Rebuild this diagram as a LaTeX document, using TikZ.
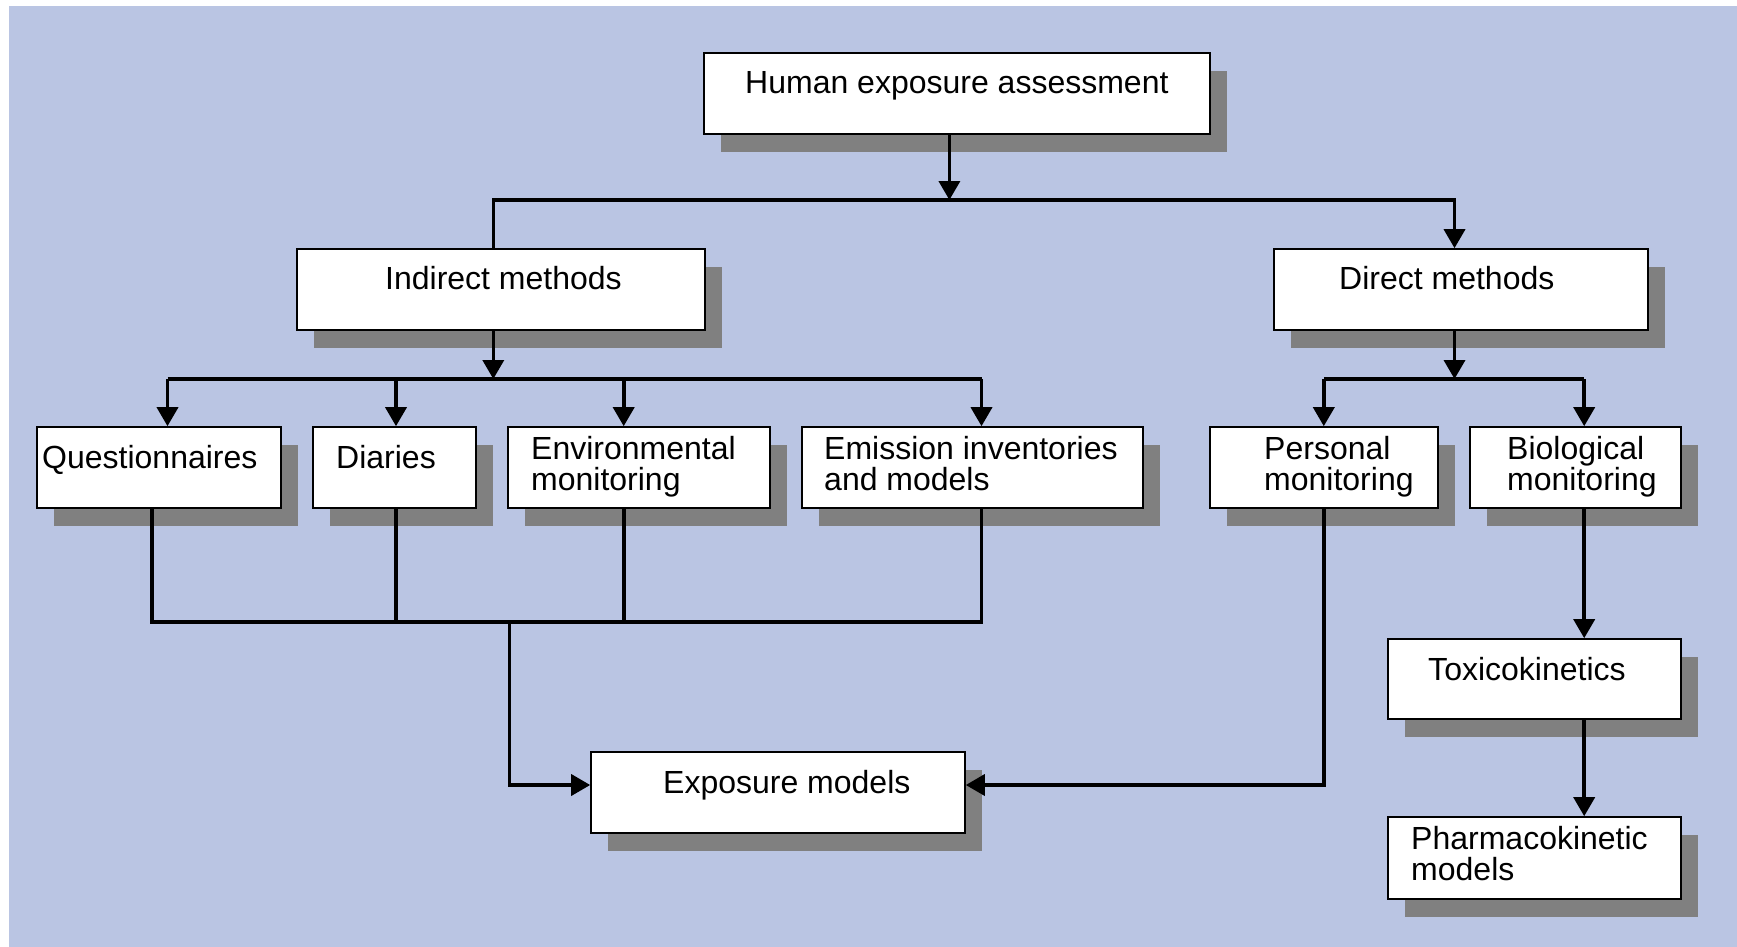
\documentclass[tikz,border=0pt]{standalone}
\usepackage{fontspec}
\setmainfont{Liberation Sans}
\usetikzlibrary{arrows.meta,shadows}
\definecolor{bgblue}{RGB}{186,197,227}
\definecolor{shgray}{RGB}{128,128,128}
\newcommand{\mkbox}[5]{\node[bx,minimum width={#4-#2},minimum height={#5-#3}] (#1) at ({(#2+#4)/2},{(#3+#5)/2}) {};}
\begin{document}
\begin{tikzpicture}[x=1pt,y=-1pt,
  bx/.style={draw=black,line width=1.6pt,fill=white,inner sep=0pt,
    drop shadow={shadow xshift=17pt,shadow yshift=-18pt,fill=shgray,opacity=1}},
  lbl/.style={anchor=base west,inner sep=0pt,text=black,font=\fontsize{32}{32}\selectfont},
  conn/.style={line width=3.6pt},
  arr/.style={conn,-{Triangle[width=21pt,length=19pt]}}]
\useasboundingbox (0,0) rectangle (1737,947);
\fill[white] (0,0) rectangle (1737,947);
\fill[bgblue] (9,6) rectangle (1737,947);

% boxes
\mkbox{hea}{704}{53}{1210}{134}
\mkbox{ind}{297}{249}{705}{330}
\mkbox{dir}{1274}{249}{1648}{330}
\mkbox{que}{37}{427}{281}{508}
\mkbox{dia}{313}{427}{476}{508}
\mkbox{env}{508}{427}{770}{508}
\mkbox{emi}{802}{427}{1143}{508}
\mkbox{per}{1210}{427}{1438}{508}
\mkbox{bio}{1470}{427}{1681}{508}
\mkbox{tox}{1388}{639}{1681}{719}
\mkbox{pha}{1388}{817}{1681}{899}
\mkbox{exm}{591}{752}{965}{833}

% labels
\node[lbl] (t-hea) at (745,94) {Human exposure assessment};
\node[lbl] (t-ind) at (385,289) {Indirect methods};
\node[lbl] (t-dir) at (1339,289) {Direct methods};
\node[lbl] (t-que) at (42,468) {Questionnaires};
\node[lbl] (t-dia) at (336,468) {Diaries};
\node[lbl] (t-env1) at (531,459) {Environmental};
\node[lbl] (t-env2) at (531,490) {monitoring};
\node[lbl] (t-emi1) at (824,459) {Emission inventories};
\node[lbl] (t-emi2) at (824,490) {and models};
\node[lbl] (t-per1) at (1264,459) {Personal};
\node[lbl] (t-per2) at (1264,490) {monitoring};
\node[lbl] (t-bio1) at (1507,459) {Biological};
\node[lbl] (t-bio2) at (1507,490) {monitoring};
\node[lbl] (t-tox) at (1428,680) {Toxicokinetics};
\node[lbl] (t-pha1) at (1411,849) {Pharmacokinetic};
\node[lbl] (t-pha2) at (1411,880) {models};
\node[lbl] (t-exm) at (663,793) {Exposure models};

% junction coordinates
\coordinate (tM) at (949.4,200);
\coordinate (tL) at (493.3,200);
\coordinate (tR) at (1454.5,200);
\coordinate (iM) at (493.3,379);
\coordinate (iQ) at (167.5,379);
\coordinate (iD) at (396,379);
\coordinate (iE) at (623.7,379);
\coordinate (iX) at (981.5,379);
\coordinate (dM) at (1454.5,379);
\coordinate (dL) at (1323.8,379);
\coordinate (dR) at (1584.2,379);
\coordinate (bQ) at (151.8,621.7);
\coordinate (bD) at (396,621.7);
\coordinate (bE) at (623.7,621.7);
\coordinate (bX) at (981.5,621.7);
\coordinate (bS) at (509.3,621.7);
\coordinate (bC) at (509.3,785);
\coordinate (pC) at (1323.8,785);

% connectors
\draw[arr] (hea.south -| tM) -- (tM);
\draw[arr] (ind.north -| tL) -- (tL) -- (tR) -- (dir.north -| tR);

\draw[arr] (ind.south -| iM) -- (iM);
\draw[conn] (iQ) -- (iX);
\draw[arr] (iQ) -- (que.north -| iQ);
\draw[arr] (iD) -- (dia.north -| iD);
\draw[arr] (iE) -- (env.north -| iE);
\draw[arr] (iX) -- (emi.north -| iX);

\draw[arr] (dir.south -| dM) -- (dM);
\draw[conn] (dL) -- (dR);
\draw[arr] (dL) -- (per.north -| dL);
\draw[arr] (dR) -- (bio.north -| dR);

\draw[conn] (que.south -| bQ) -- (bQ) -- (bX) -- (emi.south -| bX);
\draw[conn] (dia.south -| bD) -- (bD);
\draw[conn] (env.south -| bE) -- (bE);
\draw[arr] (bS) -- (bC) -- (exm.west |- bC);
\draw[arr] (per.south -| pC) -- (pC) -- (exm.east |- pC);

\draw[arr] (bio.south -| dR) -- (tox.north -| dR);
\draw[arr] (tox.south -| dR) -- (pha.north -| dR);
\end{tikzpicture}
\end{document}
